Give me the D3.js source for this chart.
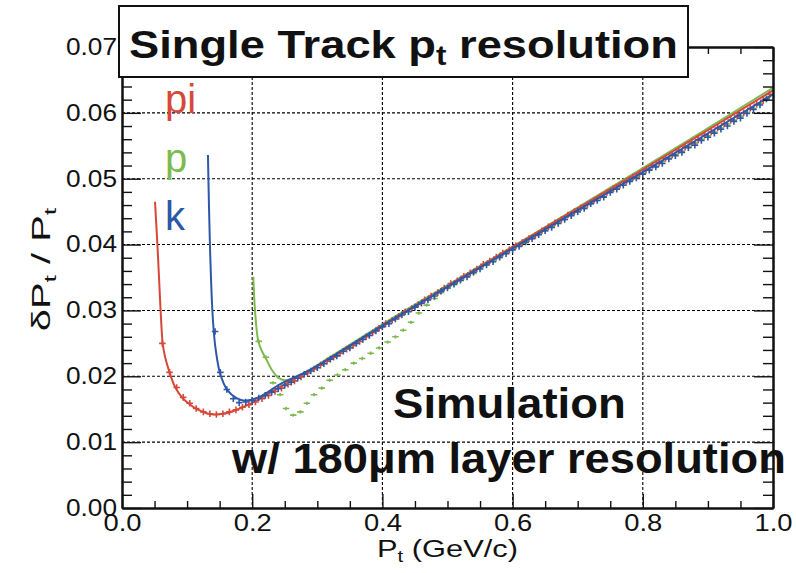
<!DOCTYPE html>
<html>
<head>
<meta charset="utf-8">
<script src="https://cdn.jsdelivr.net/npm/d3@7"></script>
<style>
  body { margin: 0; background: #fff; }
  svg { display: block; }
</style>
</head>
<body>
<div id="chart"></div>
<script>
const WIDTH = 796;
const HEIGHT = 573;
const PLOT = { left: 122, right: 773, top: 47, bottom: 508 };
const FONT = "'Liberation Sans', Arial, Helvetica, sans-serif";

const RED = '#d5483a';
const GREEN = '#7dba4e';
const BLUE = '#2d57a7';

// axis ticks and labels
const X_TICKS = [0, 0.2, 0.4, 0.6, 0.8, 1.0];
const X_LABELS = ['0.0', '0.2', '0.4', '0.6', '0.8', '1.0'];
const Y_TICKS = [0, 0.01, 0.02, 0.03, 0.04, 0.05, 0.06, 0.07];
const Y_LABELS = ['0.00', '0.01', '0.02', '0.03', '0.04', '0.05', '0.06', '0.07'];

// legend entries
const SPECIES = ['pi', 'p', 'k'];

// fitted resolution curves [pt, dPt/Pt]
const PI_FIT = [[0.0507, 0.0465], [0.0548, 0.0392], [0.0573, 0.0341], [0.0593, 0.0300], [0.0625, 0.0250],
  [0.066, 0.0230], [0.0727, 0.0207], [0.0814, 0.0184], [0.092, 0.0168], [0.102, 0.0159], [0.115, 0.0150],
  [0.130, 0.0144], [0.142, 0.0142], [0.155, 0.0143], [0.170, 0.0147], [0.197, 0.0158], [0.243, 0.0184],
  [0.300, 0.0215], [0.400, 0.0276], [0.600, 0.0396], [0.800, 0.0514], [1.000, 0.0634]];
const K_FIT = [[0.132, 0.0536], [0.135, 0.0402], [0.1388, 0.0300], [0.141, 0.0268], [0.144, 0.0240],
  [0.1505, 0.0205], [0.1618, 0.0179], [0.176, 0.0167], [0.189, 0.0163], [0.212, 0.0169], [0.243, 0.0188],
  [0.2836, 0.0207], [0.300, 0.0216], [0.400, 0.0277], [0.600, 0.0394], [0.800, 0.0510], [1.000, 0.0628]];
const P_FIT = [[0.2017, 0.0351], [0.2043, 0.0300], [0.2094, 0.0253], [0.215, 0.0238], [0.222, 0.0225],
  [0.230, 0.0210], [0.240, 0.0198], [0.250, 0.0194], [0.265, 0.0197], [0.280, 0.0205], [0.300, 0.0217],
  [0.400, 0.0279], [0.600, 0.0397], [0.800, 0.0516], [1.000, 0.0638]];

// simulated points [pt, dPt/Pt]
const PI_POINTS = [[0.062, 0.0250], [0.073, 0.0206], [0.084, 0.0183], [0.094, 0.0168], [0.104, 0.0159],
  [0.114, 0.0151], [0.125, 0.0146], [0.135, 0.0143], [0.145, 0.0142], [0.155, 0.0143], [0.165, 0.0146],
  [0.175, 0.0149], [0.185, 0.0153], [0.195, 0.0157], [0.205, 0.0161], [0.215, 0.0166], [0.225, 0.0171],
  [0.235, 0.0177], [0.245, 0.0182], [0.255, 0.0188], [0.265, 0.0193], [0.275, 0.0199], [0.285, 0.0205],
  [0.295, 0.0211], [0.305, 0.0217], [0.315, 0.0223], [0.325, 0.0229], [0.335, 0.0235], [0.345, 0.0241],
  [0.355, 0.0247], [0.365, 0.0253], [0.375, 0.0260], [0.385, 0.0266], [0.395, 0.0273], [0.405, 0.0280],
  [0.415, 0.0285], [0.425, 0.0291], [0.435, 0.0298], [0.445, 0.0303], [0.455, 0.0309], [0.465, 0.0316],
  [0.475, 0.0322], [0.485, 0.0327], [0.495, 0.0334], [0.505, 0.0341], [0.515, 0.0345], [0.525, 0.0352],
  [0.535, 0.0357], [0.545, 0.0363], [0.555, 0.0370], [0.565, 0.0375], [0.575, 0.0381], [0.585, 0.0387],
  [0.595, 0.0392], [0.605, 0.0398], [0.615, 0.0403], [0.625, 0.0409], [0.635, 0.0414], [0.645, 0.0421],
  [0.655, 0.0427], [0.665, 0.0433], [0.675, 0.0438], [0.685, 0.0445], [0.695, 0.0450], [0.705, 0.0456],
  [0.715, 0.0461], [0.725, 0.0467], [0.735, 0.0473], [0.745, 0.0479], [0.755, 0.0485], [0.765, 0.0490],
  [0.775, 0.0496], [0.785, 0.0502], [0.795, 0.0507], [0.805, 0.0513], [0.815, 0.0520], [0.825, 0.0524],
  [0.835, 0.0531], [0.845, 0.0536], [0.855, 0.0542], [0.865, 0.0548], [0.875, 0.0554], [0.885, 0.0559],
  [0.895, 0.0566], [0.905, 0.0571], [0.915, 0.0577], [0.925, 0.0583], [0.935, 0.0589], [0.945, 0.0595],
  [0.955, 0.0600], [0.965, 0.0607], [0.975, 0.0613], [0.985, 0.0619], [0.995, 0.0628]];
const K_POINTS = [[0.143, 0.0268], [0.151, 0.0206], [0.161, 0.0180], [0.171, 0.0166], [0.180, 0.0160],
  [0.190, 0.0161], [0.200, 0.0163], [0.210, 0.0167], [0.220, 0.0171], [0.230, 0.0176], [0.240, 0.0181],
  [0.250, 0.0186], [0.260, 0.0191], [0.270, 0.0197], [0.280, 0.0203], [0.290, 0.0208], [0.300, 0.0213],
  [0.310, 0.0219], [0.320, 0.0226], [0.330, 0.0231], [0.340, 0.0238], [0.350, 0.0243], [0.360, 0.0250],
  [0.370, 0.0256], [0.380, 0.0262], [0.390, 0.0269], [0.400, 0.0275], [0.410, 0.0280], [0.420, 0.0287],
  [0.430, 0.0293], [0.440, 0.0298], [0.450, 0.0305], [0.460, 0.0311], [0.470, 0.0316], [0.480, 0.0322],
  [0.490, 0.0329], [0.500, 0.0334], [0.510, 0.0340], [0.520, 0.0346], [0.530, 0.0351], [0.540, 0.0358],
  [0.550, 0.0363], [0.560, 0.0369], [0.570, 0.0374], [0.580, 0.0381], [0.590, 0.0386], [0.600, 0.0392],
  [0.610, 0.0397], [0.620, 0.0404], [0.630, 0.0409], [0.640, 0.0415], [0.650, 0.0421], [0.660, 0.0426],
  [0.670, 0.0432], [0.680, 0.0438], [0.690, 0.0444], [0.700, 0.0450], [0.710, 0.0455], [0.720, 0.0462],
  [0.730, 0.0467], [0.740, 0.0472], [0.750, 0.0479], [0.760, 0.0484], [0.770, 0.0490], [0.780, 0.0496],
  [0.790, 0.0501], [0.800, 0.0507], [0.810, 0.0513], [0.820, 0.0518], [0.830, 0.0523], [0.840, 0.0530],
  [0.850, 0.0535], [0.860, 0.0540], [0.870, 0.0547], [0.880, 0.0551], [0.890, 0.0558], [0.900, 0.0563],
  [0.910, 0.0569], [0.920, 0.0575], [0.930, 0.0580], [0.940, 0.0587], [0.950, 0.0592], [0.960, 0.0599],
  [0.970, 0.0605], [0.980, 0.0612], [0.990, 0.0621]];
const P_POINTS = [[0.210, 0.0253], [0.221, 0.0229], [0.232, 0.0190], [0.243, 0.0172], [0.252, 0.0151],
  [0.263, 0.0141], [0.274, 0.0146], [0.284, 0.0159], [0.295, 0.0172], [0.307, 0.0182], [0.319, 0.0194],
  [0.331, 0.0202], [0.343, 0.0210], [0.356, 0.0220], [0.369, 0.0227], [0.382, 0.0235], [0.395, 0.0243],
  [0.408, 0.0252], [0.420, 0.0260], [0.432, 0.0270], [0.444, 0.0282], [0.456, 0.0296], [0.468, 0.0308],
  [0.480, 0.0318], [0.490, 0.0327], [0.500, 0.0334], [0.510, 0.0339], [0.520, 0.0345], [0.530, 0.0352],
  [0.540, 0.0356], [0.550, 0.0364], [0.560, 0.0370], [0.570, 0.0375], [0.580, 0.0380], [0.590, 0.0387],
  [0.600, 0.0393], [0.610, 0.0398], [0.620, 0.0403], [0.630, 0.0410], [0.640, 0.0416], [0.650, 0.0421],
  [0.660, 0.0427], [0.670, 0.0433], [0.680, 0.0438], [0.690, 0.0445], [0.700, 0.0450], [0.710, 0.0455],
  [0.720, 0.0462], [0.730, 0.0467], [0.740, 0.0473], [0.750, 0.0480], [0.760, 0.0485], [0.770, 0.0490],
  [0.780, 0.0497], [0.790, 0.0503], [0.800, 0.0508], [0.810, 0.0514], [0.820, 0.0519], [0.830, 0.0526],
  [0.840, 0.0531], [0.850, 0.0537], [0.860, 0.0542], [0.870, 0.0549], [0.880, 0.0554], [0.890, 0.0560],
  [0.900, 0.0565], [0.910, 0.0571], [0.920, 0.0577], [0.930, 0.0583], [0.940, 0.0589], [0.950, 0.0595],
  [0.960, 0.0601], [0.970, 0.0607], [0.980, 0.0614], [0.990, 0.0622]];

const BIN_HALF = 0.005;

/**
 * Stretches a text horizontally so it spans the given width, keeping x0 fixed
 */
const stretchText = (sel, x0, width) => {
  const box = sel.node().getBBox();
  const k = width / box.width;
  sel.attr('transform', `translate(${x0},0) scale(${k},1) translate(${-x0},0)`);
  return sel;
};

const main = () => {
  const svg = d3.select('#chart')
    .append('svg')
    .attr('width', WIDTH)
    .attr('height', HEIGHT)
    .style('font-family', FONT);

  svg.append('rect').attr('width', WIDTH).attr('height', HEIGHT).attr('fill', '#fff');

  const xScale = d3.scaleLinear().domain([0, 1]).range([PLOT.left, PLOT.right]);
  const yScale = d3.scaleLinear().domain([0, 0.07]).range([PLOT.bottom, PLOT.top]);

  // dashed grid at the major ticks
  const grid = svg.append('g')
    .attr('stroke', '#000')
    .attr('stroke-width', 1.1)
    .attr('stroke-dasharray', '3,2');
  grid.selectAll('line.gx')
    .data(X_TICKS.slice(1, -1))
    .enter()
    .append('line')
    .attr('x1', d => xScale(d)).attr('x2', d => xScale(d))
    .attr('y1', PLOT.top).attr('y2', PLOT.bottom);
  grid.selectAll('line.gy')
    .data(Y_TICKS.slice(1, -1))
    .enter()
    .append('line')
    .attr('x1', PLOT.left).attr('x2', PLOT.right)
    .attr('y1', d => yScale(d)).attr('y2', d => yScale(d));

  // fits and points
  const line = d3.line()
    .x(d => xScale(d[0]))
    .y(d => yScale(d[1]))
    .curve(d3.curveCatmullRom.alpha(0.5));

  const drawSeries = (fit, points, color, err) => {
    const g = svg.append('g');
    g.append('path')
      .datum(fit)
      .attr('d', line)
      .attr('fill', 'none')
      .attr('stroke', color)
      .attr('stroke-width', 2);
    g.selectAll('path.pt')
      .data(points)
      .enter()
      .append('path')
      .attr('d', d => `M${xScale(d[0] - BIN_HALF)},${yScale(d[1])}H${xScale(d[0] + BIN_HALF)}` +
        `M${xScale(d[0])},${yScale(d[1] - err)}V${yScale(d[1] + err)}`)
      .attr('fill', 'none')
      .attr('stroke', color)
      .attr('stroke-width', 1.6);
  };
  drawSeries(P_FIT, P_POINTS, GREEN, 0.00025);
  drawSeries(PI_FIT, PI_POINTS, RED, 0.0005);
  drawSeries(K_FIT, K_POINTS, BLUE, 0.0005);

  // minor ticks
  const xMinor = d3.range(0.05, 1, 0.05).filter(v => Math.abs(v * 5 - Math.round(v * 5)) > 1e-6);
  const yMinor = d3.range(0.002, 0.07, 0.002).filter(v => Math.abs(v * 100 - Math.round(v * 100)) > 1e-6);

  const styleAxis = g => {
    g.attr('font-family', FONT).attr('font-size', 23);
    g.selectAll('line').attr('stroke', '#111').attr('stroke-width', 1.4);
    g.select('.domain').attr('stroke', '#111').attr('stroke-width', 2);
    g.selectAll('text').attr('fill', '#111');
  };

  // bottom axis
  svg.append('g')
    .attr('transform', `translate(0,${PLOT.bottom})`)
    .call(d3.axisBottom(xScale).tickValues(X_TICKS).tickFormat((d, i) => X_LABELS[i])
      .tickSize(-14).tickSizeOuter(0).tickPadding(7))
    .call(styleAxis)
    .call(g => g.selectAll('text').attr('textLength', 38).attr('lengthAdjust', 'spacingAndGlyphs'));
  svg.append('g')
    .attr('transform', `translate(0,${PLOT.bottom})`)
    .call(d3.axisBottom(xScale).tickValues(xMinor).tickFormat('').tickSize(-7).tickSizeOuter(0))
    .call(styleAxis);

  // top axis
  svg.append('g')
    .attr('transform', `translate(0,${PLOT.top})`)
    .call(d3.axisTop(xScale).tickValues(X_TICKS).tickFormat('').tickSize(-14).tickSizeOuter(0))
    .call(styleAxis);
  svg.append('g')
    .attr('transform', `translate(0,${PLOT.top})`)
    .call(d3.axisTop(xScale).tickValues(xMinor).tickFormat('').tickSize(-7).tickSizeOuter(0))
    .call(styleAxis);

  // left axis
  svg.append('g')
    .attr('transform', `translate(${PLOT.left},0)`)
    .call(d3.axisLeft(yScale).tickValues(Y_TICKS).tickFormat((d, i) => Y_LABELS[i])
      .tickSize(-19).tickSizeOuter(0).tickPadding(5))
    .call(styleAxis)
    .call(g => g.selectAll('text').attr('textLength', 51).attr('lengthAdjust', 'spacingAndGlyphs'));
  svg.append('g')
    .attr('transform', `translate(${PLOT.left},0)`)
    .call(d3.axisLeft(yScale).tickValues(yMinor).tickFormat('').tickSize(-10).tickSizeOuter(0))
    .call(styleAxis);

  // right axis
  svg.append('g')
    .attr('transform', `translate(${PLOT.right},0)`)
    .call(d3.axisRight(yScale).tickValues(Y_TICKS).tickFormat('').tickSize(-19).tickSizeOuter(0))
    .call(styleAxis);
  svg.append('g')
    .attr('transform', `translate(${PLOT.right},0)`)
    .call(d3.axisRight(yScale).tickValues(yMinor).tickFormat('').tickSize(-10).tickSizeOuter(0))
    .call(styleAxis);

  // axis titles
  const xTitle = svg.append('text')
    .attr('x', 377)
    .attr('y', 557)
    .attr('font-size', 24)
    .attr('fill', '#111');
  xTitle.append('tspan').text('P');
  xTitle.append('tspan').attr('font-size', 16).attr('dy', 5).text('t');
  xTitle.append('tspan').attr('dy', -5).text(' (GeV/c)');
  stretchText(xTitle, 377, 141);

  const yTitleG = svg.append('g')
    .attr('transform', `translate(50,${(PLOT.top + PLOT.bottom) / 2 - 8}) rotate(-90)`);
  const yTitle = yTitleG.append('text')
    .attr('text-anchor', 'middle')
    .attr('font-size', 25)
    .attr('fill', '#111');
  yTitle.append('tspan').text('\u03b4P');
  yTitle.append('tspan').attr('font-size', 17).attr('dy', 6).text('t');
  yTitle.append('tspan').attr('dy', -6).text(' / P');
  yTitle.append('tspan').attr('font-size', 17).attr('dy', 6).text('t');
  stretchText(yTitle, 0, 124);

  // title box
  svg.append('rect')
    .attr('x', 119)
    .attr('y', 6)
    .attr('width', 569)
    .attr('height', 71)
    .attr('fill', '#fff')
    .attr('stroke', '#111')
    .attr('stroke-width', 2);
  const title = svg.append('text')
    .attr('x', 129)
    .attr('y', 58)
    .attr('font-size', 39)
    .attr('font-weight', 'bold')
    .attr('fill', '#111');
  title.append('tspan').text('Single Track p');
  title.append('tspan').attr('font-size', 27).attr('dy', 7).text('t');
  title.append('tspan').attr('dy', -7).text(' resolution');
  stretchText(title, 129, 549);

  // legend labels
  const legendColors = [RED, GREEN, BLUE];
  const legendY = [113, 172, 230];
  svg.selectAll('text.legend')
    .data(SPECIES)
    .enter()
    .append('text')
    .attr('class', 'legend')
    .attr('x', 165)
    .attr('y', (d, i) => legendY[i])
    .attr('font-size', 40)
    .attr('fill', (d, i) => legendColors[i])
    .text(d => d);

  // annotation
  const sim = svg.append('text')
    .attr('x', 393)
    .attr('y', 418)
    .attr('font-size', 43)
    .attr('font-weight', 'bold')
    .attr('fill', '#111')
    .text('Simulation');
  stretchText(sim, 393, 233);
  const layer = svg.append('text')
    .attr('x', 232)
    .attr('y', 473)
    .attr('font-size', 43)
    .attr('font-weight', 'bold')
    .attr('fill', '#111')
    .text('w/ 180\u03bcm layer resolution');
  stretchText(layer, 232, 555);
};

main();
</script>
</body>
</html>
